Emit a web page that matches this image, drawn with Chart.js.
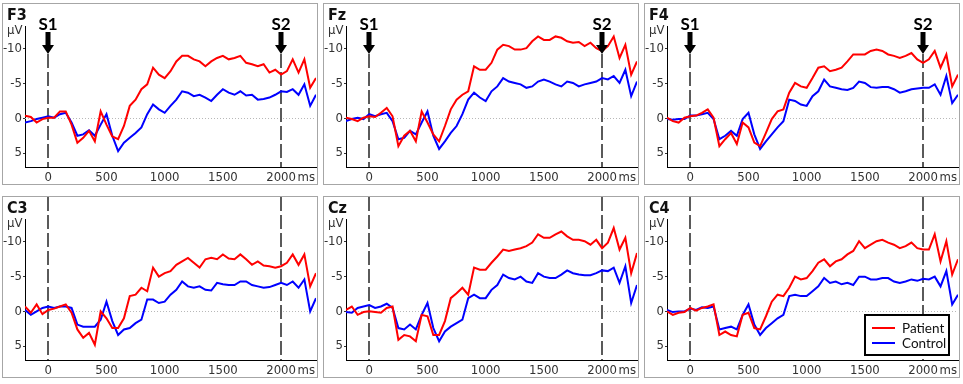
<!DOCTYPE html>
<html>
<head>
<meta charset="utf-8">
<script src="https://cdn.jsdelivr.net/npm/chart.js@4.4.1/dist/chart.umd.min.js"></script>
<style>
  body { margin: 0; background: #fff; width: 963px; height: 384px; position: relative; overflow: hidden; }
  .panel { position: absolute; width: 316px; height: 182px; box-sizing: border-box; border: 1px solid #a6a6a6; }
  .panel canvas { display: block; }
</style>
</head>
<body>
<div class="panel" style="left:2px;top:3px"><canvas id="F3" width="314" height="180"></canvas></div>
<div class="panel" style="left:323px;top:3px"><canvas id="Fz" width="314" height="180"></canvas></div>
<div class="panel" style="left:644px;top:3px"><canvas id="F4" width="314" height="180"></canvas></div>
<div class="panel" style="left:2px;top:196px"><canvas id="C3" width="314" height="180"></canvas></div>
<div class="panel" style="left:323px;top:196px"><canvas id="Cz" width="314" height="180"></canvas></div>
<div class="panel" style="left:644px;top:196px"><canvas id="C4" width="314" height="180"></canvas></div>
<script>
// time axis (ms), one sample every 50 ms
const times = [-200,-150,-100,-50,0,50,100,150,200,250,300,350,400,450,500,550,600,650,700,750,800,850,900,950,1000,1050,1100,1150,1200,1250,1300,1350,1400,1450,1500,1550,1600,1650,1700,1750,1800,1850,1900,1950,2000,2050,2100,2150,2200,2250,2300];
const xTicks = [0, 500, 1000, 1500, 2000];
const yTicks = [-10, -5, 0, 5];
const stimTimes = [0, 2000];
const stimLabels = ['S1', 'S2'];
const seriesNames = ['Patient', 'Control'];
const channels = ['F3', 'Fz', 'F4', 'C3', 'Cz', 'C4'];

// amplitudes in µV (negative plotted up)
const f3Patient = [-0.4,-0.2,0.6,0.1,-0.1,-0.1,-1.0,-1.0,0.9,3.5,2.8,1.8,3.3,-1.0,0.9,2.6,3.0,1.1,-1.8,-2.7,-4.2,-4.9,-7.3,-6.3,-5.8,-6.8,-8.2,-9.0,-9.0,-8.5,-8.2,-7.5,-8.2,-8.7,-9.0,-8.5,-8.7,-9.0,-8.0,-7.8,-7.5,-7.8,-6.6,-7.0,-6.3,-6.8,-8.5,-6.6,-8.5,-4.4,-5.8];
const f3Control = [0.6,0.4,0.1,-0.1,-0.3,-0.1,-0.6,-0.8,0.6,2.5,2.3,1.7,2.5,0.9,-0.6,2.5,4.7,3.5,2.8,2.1,1.3,-0.6,-2.0,-1.3,-0.8,-1.8,-2.7,-3.9,-3.7,-3.2,-3.4,-3.0,-2.5,-3.4,-4.2,-3.7,-3.4,-3.9,-3.3,-3.4,-2.7,-2.8,-3.0,-3.4,-3.9,-3.8,-4.2,-3.4,-4.9,-1.8,-3.4];
const fzPatient = [-0.1,0.1,0.4,-0.1,-0.3,-0.2,-0.8,-1.5,-0.3,4.0,2.5,1.8,3.3,-1.0,0.6,2.3,3.3,1.1,-1.3,-2.7,-3.4,-3.9,-7.5,-7.0,-7.0,-8.0,-9.9,-10.6,-10.4,-9.9,-9.9,-10.1,-11.1,-11.8,-11.3,-11.3,-11.8,-11.6,-11.1,-10.9,-11.0,-10.4,-10.9,-10.1,-9.7,-10.4,-11.8,-8.7,-10.6,-6.3,-8.2];
const fzControl = [0.4,0.1,-0.1,0.1,-0.6,-0.3,-0.6,-0.8,0.4,3.0,2.8,1.8,2.3,0.6,-1.0,2.5,4.4,3.3,2.1,1.1,-0.6,-2.7,-3.7,-3.0,-2.5,-3.9,-4.6,-5.8,-5.3,-5.1,-4.9,-4.4,-4.6,-5.3,-5.6,-5.3,-4.9,-4.6,-5.3,-5.1,-4.6,-4.9,-5.1,-5.3,-5.8,-5.6,-6.1,-5.1,-7.0,-3.2,-5.3];
const f4Patient = [-0.1,0.4,0.6,-0.1,-0.3,-0.4,-0.8,-1.3,-0.1,4.0,3.0,2.1,3.7,0.6,1.3,3.5,4.0,2.1,0.1,-1.0,-1.3,-3.7,-5.1,-4.6,-4.4,-5.8,-7.3,-7.5,-6.8,-7.0,-7.3,-8.2,-9.2,-9.2,-9.2,-9.7,-9.9,-9.7,-9.2,-9.0,-8.7,-9.0,-9.4,-8.5,-8.0,-8.5,-9.7,-7.3,-9.2,-4.6,-6.3];
const f4Control = [0.1,0.2,0.1,0.1,-0.4,-0.4,-0.6,-0.8,0.1,3.0,2.5,1.8,2.5,0.1,-0.8,2.3,4.4,3.3,2.3,1.3,0.4,-2.7,-2.5,-2.0,-1.8,-3.2,-3.9,-5.6,-4.6,-4.4,-4.2,-4.1,-4.4,-5.3,-5.1,-4.5,-4.4,-4.5,-4.5,-4.2,-3.7,-3.9,-4.2,-4.3,-4.4,-4.4,-4.9,-3.4,-6.1,-2.2,-3.4];
const c3Patient = [-0.7,0.2,-1.0,0.4,-0.2,-0.4,-0.7,-1.0,0.2,2.6,3.8,3.1,4.8,0.0,1.0,2.4,2.4,1.0,-2.2,-2.4,-3.4,-2.9,-6.3,-5.0,-5.5,-5.8,-6.7,-7.2,-7.7,-7.0,-6.3,-7.5,-7.7,-7.5,-8.2,-7.6,-7.5,-8.2,-7.5,-6.7,-7.2,-6.6,-6.5,-6.3,-6.5,-7.0,-8.2,-6.7,-8.2,-3.6,-5.5];
const c3Control = [-0.2,0.5,0.0,-0.5,-0.7,-0.5,-0.7,-0.7,-0.5,1.9,2.2,2.2,2.2,1.2,-1.4,1.4,3.4,2.6,2.4,1.7,1.2,-1.7,-1.7,-1.2,-1.4,-2.4,-3.1,-4.3,-3.6,-3.4,-3.6,-3.1,-3.0,-4.1,-3.9,-3.8,-3.8,-4.3,-4.3,-3.8,-3.6,-3.4,-3.5,-3.8,-4.1,-3.8,-4.3,-3.4,-4.6,0.0,-1.9];
const czPatient = [-0.2,-0.7,0.5,0.1,0.0,0.1,0.2,-0.5,-0.7,4.1,3.4,3.6,4.3,0.5,0.7,3.4,3.4,1.4,-1.9,-2.6,-3.4,-2.4,-6.3,-6.0,-6.0,-7.0,-7.9,-8.9,-8.7,-8.9,-9.1,-9.4,-9.9,-11.1,-10.6,-10.6,-11.1,-11.5,-10.8,-10.3,-10.3,-10.1,-9.6,-10.3,-9.1,-9.9,-12.0,-8.9,-10.6,-5.5,-8.4];
const czControl = [0.1,0.2,-0.5,-0.7,-0.9,-0.5,-0.7,-1.1,-0.5,2.4,2.6,1.9,2.6,0.5,-1.2,2.4,4.3,2.9,2.2,1.7,1.2,-1.9,-2.4,-1.9,-1.9,-3.1,-3.8,-5.3,-4.8,-4.6,-5.0,-4.3,-4.1,-5.5,-5.0,-4.8,-4.8,-5.3,-5.9,-5.5,-5.3,-5.2,-5.2,-5.5,-5.9,-5.8,-6.3,-4.1,-6.5,-1.2,-3.8];
const c4Patient = [0.0,0.5,0.2,0.1,-0.5,-0.1,-0.5,-0.7,-1.0,3.4,2.9,3.4,3.6,0.5,0.2,2.4,2.6,0.7,-1.4,-2.4,-2.2,-3.4,-5.0,-4.6,-4.8,-5.8,-7.0,-7.5,-6.5,-7.2,-7.5,-8.2,-8.7,-10.1,-9.1,-9.6,-10.1,-10.3,-9.9,-9.6,-9.1,-9.4,-9.9,-9.1,-8.9,-8.9,-11.1,-7.2,-10.1,-5.3,-7.5];
const c4Control = [-0.2,0.1,0.0,0.0,-0.4,-0.2,-0.6,-0.5,-0.7,2.6,2.4,2.2,2.6,0.5,-1.0,1.9,3.4,2.4,1.7,1.0,0.5,-2.2,-2.4,-2.2,-2.2,-2.9,-3.6,-4.8,-4.1,-4.3,-3.9,-4.1,-3.8,-5.0,-5.0,-4.6,-4.6,-4.8,-4.8,-4.3,-4.1,-4.3,-4.6,-4.4,-4.7,-4.6,-5.0,-3.6,-5.8,-1.0,-2.4];

const patientData = [f3Patient, fzPatient, f4Patient, c3Patient, czPatient, c4Patient];
const controlData = [f3Control, fzControl, f4Control, c3Control, czControl, c4Control];

const narrow = '"Liberation Sans Narrow", "DejaVu Sans Condensed", "Liberation Sans", Arial, sans-serif';
const tickFont = { family: narrow, size: 13 };

// labels, stimulus markers, zero line, legend
const decor = {
  id: 'decor',
  beforeDatasetsDraw(chart, args, opts) {
    const { ctx, chartArea: a, scales: { x, y } } = chart;
    ctx.save();
    const y0 = Math.round(y.getPixelForValue(0)) + 0.5;
    ctx.strokeStyle = '#b8b8b8';
    ctx.lineWidth = 1;
    ctx.setLineDash([1, 2]);
    ctx.beginPath(); ctx.moveTo(a.left, y0); ctx.lineTo(a.right, y0); ctx.stroke();

    ctx.strokeStyle = '#5a5a5a';
    ctx.lineWidth = 2;
    ctx.setLineDash([14, 4]);
    stimTimes.forEach(t => {
      const px = Math.round(x.getPixelForValue(t));
      ctx.beginPath();
      ctx.moveTo(px, opts.arrows ? 50 : 0);
      ctx.lineTo(px, a.bottom);
      ctx.stroke();
    });
    ctx.restore();
  },
  afterDraw(chart, args, opts) {
    const { ctx, chartArea: a, scales: { x } } = chart;
    ctx.save();
    ctx.fillStyle = '#111';
    ctx.textBaseline = 'alphabetic';
    ctx.textAlign = 'left';
    ctx.font = 'bold 16px ' + narrow;
    ctx.fillText(opts.name, 4, 16);
    ctx.font = '13px ' + narrow;
    ctx.fillStyle = '#333';
    ctx.fillText('\u03bcV', 4, 30);

    // ms unit next to the last tick
    ctx.textAlign = 'right';
    ctx.textBaseline = 'middle';
    ctx.fillText('ms', a.right - 1, a.bottom + 11);

    if (opts.arrows) {
      ctx.fillStyle = '#000';
      stimTimes.forEach((t, i) => {
        const px = Math.round(x.getPixelForValue(t));
        ctx.font = 'bold 17px Lato, "Open Sans", sans-serif';
        ctx.textAlign = 'center';
        ctx.textBaseline = 'alphabetic';
        ctx.fillText(stimLabels[i], px, 26);
        ctx.fillRect(px - 2.5, 28, 5, 13);
        ctx.beginPath();
        ctx.moveTo(px - 6, 41); ctx.lineTo(px + 6, 41); ctx.lineTo(px, 50);
        ctx.closePath(); ctx.fill();
      });
    }

    if (opts.legend) {
      const bx = a.right - 93, by = a.bottom - 45, bw = 84, bh = 40;
      ctx.fillStyle = '#fff';
      ctx.fillRect(bx, by, bw, bh);
      ctx.strokeStyle = '#000';
      ctx.lineWidth = 2;
      ctx.strokeRect(bx, by, bw, bh);
      chart.data.datasets.forEach((ds, i) => {
        const ly = by + 13 + i * 15;
        ctx.strokeStyle = ds.borderColor;
        ctx.lineWidth = 2;
        ctx.beginPath(); ctx.moveTo(bx + 7, ly); ctx.lineTo(bx + 30, ly); ctx.stroke();
        ctx.fillStyle = '#111';
        ctx.font = '13.5px Lato, "Open Sans", sans-serif';
        ctx.textAlign = 'left';
        ctx.textBaseline = 'middle';
        ctx.fillText(ds.label, bx + 37, ly + 1);
      });
    }
    ctx.restore();
  }
};

channels.forEach((name, k) => {
  new Chart(document.getElementById(name), {
    type: 'line',
    data: {
      datasets: [
        { label: seriesNames[0], data: times.map((t, i) => ({ x: t, y: patientData[k][i] })),
          borderColor: '#ff0000', borderWidth: 2, pointRadius: 0, tension: 0 },
        { label: seriesNames[1], data: times.map((t, i) => ({ x: t, y: controlData[k][i] })),
          borderColor: '#0000ff', borderWidth: 2, pointRadius: 0, tension: 0 }
      ]
    },
    options: {
      responsive: false,
      animation: false,
      layout: { padding: { top: 22, left: 0, right: 1, bottom: 0 } },
      plugins: {
        legend: { display: false },
        tooltip: { enabled: false },
        decor: { name: name, arrows: k < 3, legend: k === 5 }
      },
      scales: {
        x: {
          type: 'linear', min: -200, max: 2300,
          grid: { display: false, drawTicks: false },
          border: { color: '#000', width: 1 },
          ticks: { font: tickFont, color: '#333', padding: 3, maxRotation: 0, autoSkip: false,
                   callback: v => String(v) },
          afterBuildTicks: s => { s.ticks = xTicks.map(v => ({ value: v })); },
          afterFit: s => { s.height = 17; }
        },
        y: {
          reverse: true, min: -13.3, max: 7,
          grid: { display: true, drawOnChartArea: false, drawTicks: true, tickLength: 2, color: '#333' },
          border: { color: '#000', width: 1 },
          ticks: { font: tickFont, color: '#333', padding: 1, callback: v => String(v) },
          afterBuildTicks: s => { s.ticks = yTicks.map(v => ({ value: v })); },
          afterFit: s => { s.width = 22; }
        }
      }
    },
    plugins: [decor]
  });
});
</script>
</body>
</html>
